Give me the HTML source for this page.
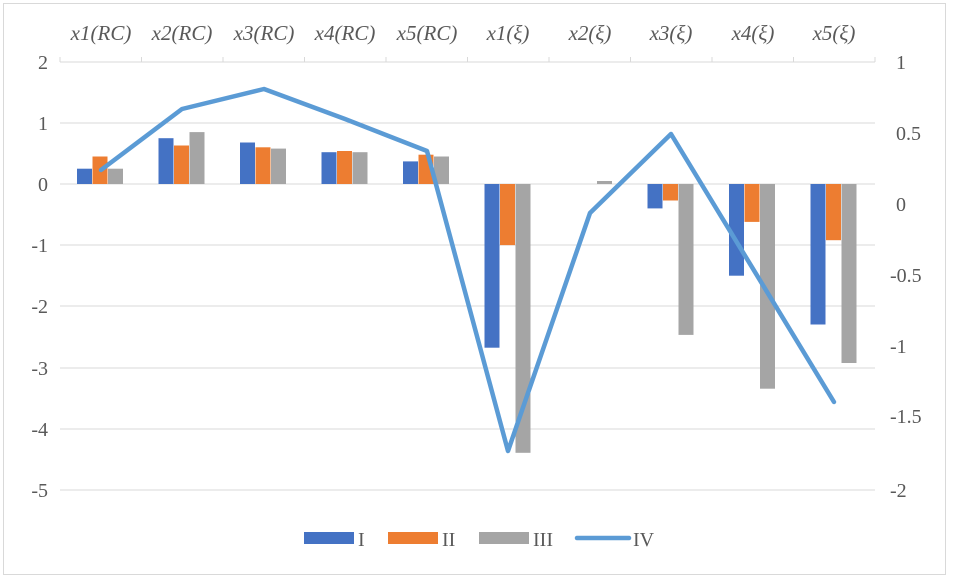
<!DOCTYPE html>
<html><head><meta charset="utf-8"><style>
html,body{margin:0;padding:0;background:#fff;}
svg{display:block;font-family:"Liberation Serif",serif;}
</style></head><body>
<svg width="953" height="579" viewBox="0 0 953 579" xmlns="http://www.w3.org/2000/svg">
<rect x="3.5" y="3.5" width="942" height="571" fill="#fff" stroke="#d9d9d9" stroke-width="1"/>
<g stroke="#d9d9d9" stroke-width="1">
<line x1="60" y1="62" x2="875" y2="62"/>
<line x1="60" y1="123" x2="875" y2="123"/>
<line x1="60" y1="184" x2="875" y2="184"/>
<line x1="60" y1="245" x2="875" y2="245"/>
<line x1="60" y1="306" x2="875" y2="306"/>
<line x1="60" y1="368" x2="875" y2="368"/>
<line x1="60" y1="429" x2="875" y2="429"/>
<line x1="60" y1="490" x2="875" y2="490"/>
<line x1="60" y1="57" x2="60" y2="62"/><line x1="141.5" y1="57" x2="141.5" y2="62"/><line x1="223" y1="57" x2="223" y2="62"/><line x1="304.5" y1="57" x2="304.5" y2="62"/><line x1="386" y1="57" x2="386" y2="62"/><line x1="467.5" y1="57" x2="467.5" y2="62"/><line x1="549" y1="57" x2="549" y2="62"/><line x1="630.5" y1="57" x2="630.5" y2="62"/><line x1="712" y1="57" x2="712" y2="62"/><line x1="793.5" y1="57" x2="793.5" y2="62"/><line x1="875" y1="57" x2="875" y2="62"/>
</g>
<g font-size="20" fill="#595959" text-anchor="end">
<text x="48" y="69">2</text><text x="48" y="130">1</text><text x="48" y="191">0</text><text x="48" y="252">-1</text><text x="48" y="313">-2</text><text x="48" y="375">-3</text><text x="48" y="436">-4</text><text x="48" y="497">-5</text>
</g>
<g font-size="20" fill="#595959" text-anchor="start">
<text x="896" y="69">1</text><text x="896" y="140">0.5</text><text x="896" y="211">0</text><text x="890" y="282">-0.5</text><text x="890" y="353">-1</text><text x="890" y="423">-1.5</text><text x="890" y="497">-2</text>
</g>
<g font-size="21" fill="#595959" font-style="italic" text-anchor="middle">
<text x="101" y="40">x1(RC)</text><text x="182" y="40">x2(RC)</text><text x="264" y="40">x3(RC)</text><text x="345" y="40">x4(RC)</text><text x="427" y="40">x5(RC)</text>
<text x="508" y="40">x1(ξ)</text><text x="590" y="40">x2(ξ)</text><text x="671" y="40">x3(ξ)</text><text x="753" y="40">x4(ξ)</text><text x="834" y="40">x5(ξ)</text>
</g>
<g>
<rect x="77" y="168.7" width="15" height="15.3" fill="#4472c4"/>
<rect x="92.5" y="156.5" width="15" height="27.5" fill="#ed7d31"/>
<rect x="108" y="168.7" width="15" height="15.3" fill="#a5a5a5"/>
<rect x="158.5" y="138.2" width="15" height="45.8" fill="#4472c4"/>
<rect x="174" y="145.5" width="15" height="38.5" fill="#ed7d31"/>
<rect x="189.5" y="132.1" width="15" height="51.9" fill="#a5a5a5"/>
<rect x="240" y="142.5" width="15" height="41.5" fill="#4472c4"/>
<rect x="255.5" y="147.3" width="15" height="36.7" fill="#ed7d31"/>
<rect x="271" y="148.6" width="15" height="35.4" fill="#a5a5a5"/>
<rect x="321.5" y="152.2" width="15" height="31.8" fill="#4472c4"/>
<rect x="337" y="151" width="15" height="33" fill="#ed7d31"/>
<rect x="352.5" y="152.2" width="15" height="31.8" fill="#a5a5a5"/>
<rect x="403" y="161.4" width="15" height="22.6" fill="#4472c4"/>
<rect x="418.5" y="154.7" width="15" height="29.3" fill="#ed7d31"/>
<rect x="434" y="156.5" width="15" height="27.5" fill="#a5a5a5"/>
<rect x="484.5" y="184" width="15" height="163.7" fill="#4472c4"/>
<rect x="500" y="184" width="15" height="61.1" fill="#ed7d31"/>
<rect x="515.5" y="184" width="15" height="268.8" fill="#a5a5a5"/>
<rect x="597" y="181" width="15" height="3" fill="#a5a5a5"/>
<rect x="647.5" y="184" width="15" height="24.4" fill="#4472c4"/>
<rect x="663" y="184" width="15" height="16.5" fill="#ed7d31"/>
<rect x="678.5" y="184" width="15" height="150.9" fill="#a5a5a5"/>
<rect x="729" y="184" width="15" height="91.7" fill="#4472c4"/>
<rect x="744.5" y="184" width="15" height="37.9" fill="#ed7d31"/>
<rect x="760" y="184" width="15" height="204.7" fill="#a5a5a5"/>
<rect x="810.5" y="184" width="15" height="140.5" fill="#4472c4"/>
<rect x="826" y="184" width="15" height="56.2" fill="#ed7d31"/>
<rect x="841.5" y="184" width="15" height="179" fill="#a5a5a5"/>
</g>
<polyline fill="none" stroke="#5b9bd5" stroke-width="4.5" stroke-linejoin="round" stroke-linecap="round"
 points="101,170 182,109 264,89 345,119 427,151 508,451 590,213 671,134 834,402"/>
<g font-size="20" fill="#595959">
<rect x="304" y="532" width="50" height="12" fill="#4472c4"/><text x="358" y="546">I</text>
<rect x="388" y="532" width="50" height="12" fill="#ed7d31"/><text x="442" y="546">II</text>
<rect x="479" y="532" width="50" height="12" fill="#a5a5a5"/><text x="533" y="546">III</text>
<line x1="577" y1="538" x2="629" y2="538" stroke="#5b9bd5" stroke-width="4.5" stroke-linecap="round"/><text x="633" y="546">IV</text>
</g>
</svg>
</body></html>
